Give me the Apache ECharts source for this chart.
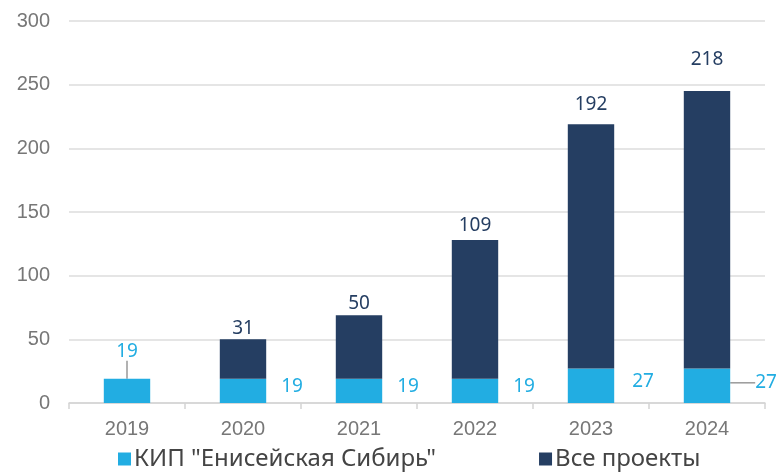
<!DOCTYPE html>
<html>
<head>
<meta charset="utf-8">
<script src="https://cdn.jsdelivr.net/npm/echarts@6/dist/echarts.min.js"></script>
<style>
  html, body { margin: 0; padding: 0; background: #fff; }
  #chart { width: 779px; height: 476px; }
</style>
</head>
<body>
<div id="chart"></div>
<script>
let years = ["2019", "2020", "2021", "2022", "2023", "2024"];
let kipValues = [19, 19, 19, 19, 27, 27];
let otherValues = [null, 31, 50, 109, 192, 218];
let yTicks = [0, 50, 100, 150, 200, 250, 300];

let lightBlue = "#22ade2";
let navy = "#253e62";
// gap between the top of a stack and its total label
let topGaps = [0, 1, 2, 5, 10, 22];

var myChart = echarts.init(document.getElementById("chart"));

myChart.setOption({
    animation: false,
    grid: {
        left: 69,
        right: 14,
        top: 21,
        bottom: 73
    },
    legend: {
        left: 113,
        bottom: 0,
        itemWidth: 13,
        itemHeight: 13,
        itemGap: 103,
        icon: "rect",
        textStyle: {
            fontFamily: "Noto Sans",
            fontSize: 24,
            color: "#444",
            padding: [0, 0, 0, -2]
        },
        data: ["КИП \"Енисейская Сибирь\"", "Все проекты"]
    },
    xAxis: {
        type: "category",
        data: years,
        axisLine: { lineStyle: { color: "#d4d4d4", width: 1.5 } },
        axisTick: { show: true, length: 6, lineStyle: { color: "#d4d4d4", width: 1.5 } },
        axisLabel: {
            margin: 16,
            fontFamily: "Liberation Sans",
            fontSize: 20,
            color: "#777"
        }
    },
    yAxis: {
        type: "value",
        min: yTicks[0],
        max: yTicks[yTicks.length - 1],
        interval: 50,
        axisLine: { show: false },
        axisTick: { show: false },
        splitLine: { lineStyle: { color: "#dcdcdc", width: 1.5 } },
        axisLabel: {
            margin: 19,
            fontFamily: "Liberation Sans",
            fontSize: 20,
            color: "#777"
        }
    },
    series: [
        {
            name: "КИП \"Енисейская Сибирь\"",
            type: "bar",
            stack: "total",
            barWidth: "40%",
            itemStyle: { color: lightBlue },
            data: kipValues.map((v, i) => ({
                value: v,
                label: i === 0 ? { position: "top", distance: 4 } : { position: "right", distance: i === 4 ? 18 : 15 },
                labelLine: { show: i === 0 || i === 5 }
            })),
            label: {
                show: true,
                fontFamily: "Noto Sans",
                fontSize: 19,
                color: lightBlue
            },
            labelLine: {
                show: true,
                lineStyle: { color: "#999", width: 1.5 }
            },
            labelLayout: function (params) {
                if (params.dataIndex === 0) return { dy: -14 };
                if (params.dataIndex === 5) return { dx: 10, dy: -3 };
                return { dy: -4 };
            }
        },
        {
            name: "Все проекты",
            type: "bar",
            stack: "total",
            barWidth: "40%",
            itemStyle: { color: navy },
            data: otherValues.map((v, i) => ({
                value: v,
                label: { distance: topGaps[i] }
            })),
            label: {
                show: true,
                position: "top",
                fontFamily: "Noto Sans",
                fontSize: 19,
                color: navy
            }
        }
    ]
});
</script>
</body>
</html>
